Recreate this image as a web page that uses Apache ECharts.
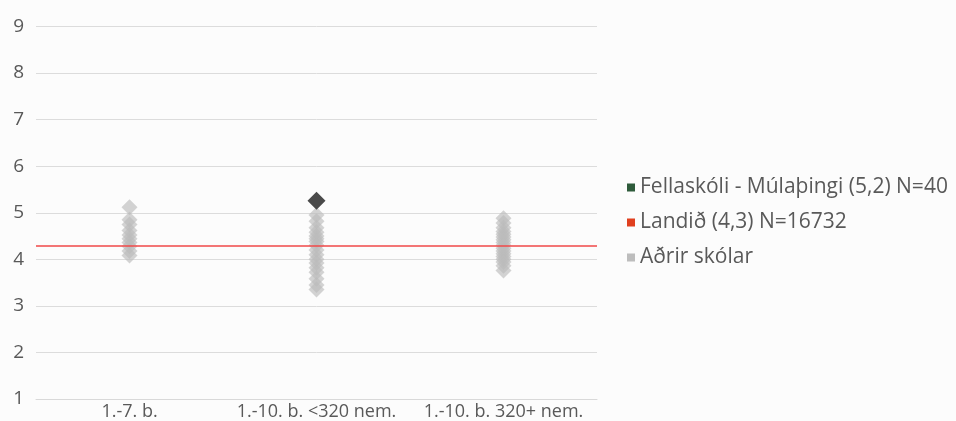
<!DOCTYPE html>
<html><head><meta charset="utf-8">
<script src="https://cdn.jsdelivr.net/npm/echarts@6/dist/echarts.min.js"></script>
<style>html,body{margin:0;padding:0;background:#fcfcfc}#c{width:956px;height:421px}</style>
</head><body><div id="c"></div>
<script>
const categories = ['1.-7. b.', '1.-10. b. <320 nem.', '1.-10. b. 320+ nem.'];
const yTicks = [1, 9, 1]; // min, max, interval
const schoolName = 'Fellaskóli - Múlaþingi (5,2) N=40';
const schoolCategory = '1.-10. b. <320 nem.';
const schoolValue = 5.26;
const countryName = 'Landið (4,3) N=16732';
const countryValue = 4.3;
const othersName = 'Aðrir skólar';
const others1 = [5.12, 4.85, 4.75, 4.62, 4.52, 4.44, 4.36, 4.28, 4.18, 4.08];
const others2 = [4.95, 4.82, 4.68, 4.58, 4.5, 4.44, 4.38, 4.3, 4.2, 4.1, 4.0, 3.92, 3.82, 3.72, 3.58, 3.45, 3.35];
const others3 = [4.88, 4.78, 4.68, 4.6, 4.54, 4.48, 4.42, 4.36, 4.3, 4.24, 4.18, 4.12, 4.06, 4.0, 3.94, 3.86, 3.76];

const othersData = [];
[others1, others2, others3].forEach((arr, i) => arr.forEach(v => othersData.push([categories[i], v])));

const chart = echarts.init(document.getElementById('c'));
const txt = '#595959';
chart.setOption({
  backgroundColor: '#fcfcfc',
  animation: false,
  grid: {left: 36, right: 359, top: 26.5, bottom: 22},
  legend: {
    orient: 'vertical', left: 622, top: 172, itemGap: 14,
    icon: 'rect', itemWidth: 8, itemHeight: 8,
    textStyle: {color: txt, fontSize: 21, fontFamily: 'Open Sans'},
    data: [
      {name: schoolName, itemStyle: {color: '#2e5b3b'}},
      {name: countryName, itemStyle: {color: '#e0401f'}},
      {name: othersName, itemStyle: {color: '#bdbdbd', opacity: 1}}
    ]
  },
  xAxis: {
    type: 'category', data: categories,
    axisLine: {show: true, lineStyle: {color: '#d9d9d9'}},
    axisTick: {show: false},
    axisLabel: {color: txt, fontSize: 18, fontFamily: 'Open Sans', margin: 4, interval: 0, hideOverlap: false}
  },
  yAxis: {
    type: 'value', min: yTicks[0], max: yTicks[1], interval: yTicks[2],
    axisLine: {show: false}, axisTick: {show: false},
    splitLine: {lineStyle: {color: '#dcdcdc', width: 1}},
    axisLabel: {color: txt, fontSize: 19, fontFamily: 'Open Sans', margin: 12}
  },
  series: [
    {
      name: othersName, type: 'scatter', symbol: 'diamond', symbolSize: 16,
      itemStyle: {color: '#bcbcbc', opacity: 0.65},
      data: othersData, z: 2
    },
    {
      name: countryName, type: 'line', data: [],
      itemStyle: {color: '#e0401f'},
      markLine: {
        silent: true, symbol: 'none', label: {show: false},
        lineStyle: {color: '#f04848', width: 1.5, type: 'solid'},
        data: [{yAxis: countryValue}]
      }, z: 3
    },
    {
      name: schoolName, type: 'scatter', symbol: 'diamond', symbolSize: 18,
      itemStyle: {color: '#4a4a4a', opacity: 1},
      data: [[schoolCategory, schoolValue]], z: 4
    }
  ]
});
</script></body></html>
